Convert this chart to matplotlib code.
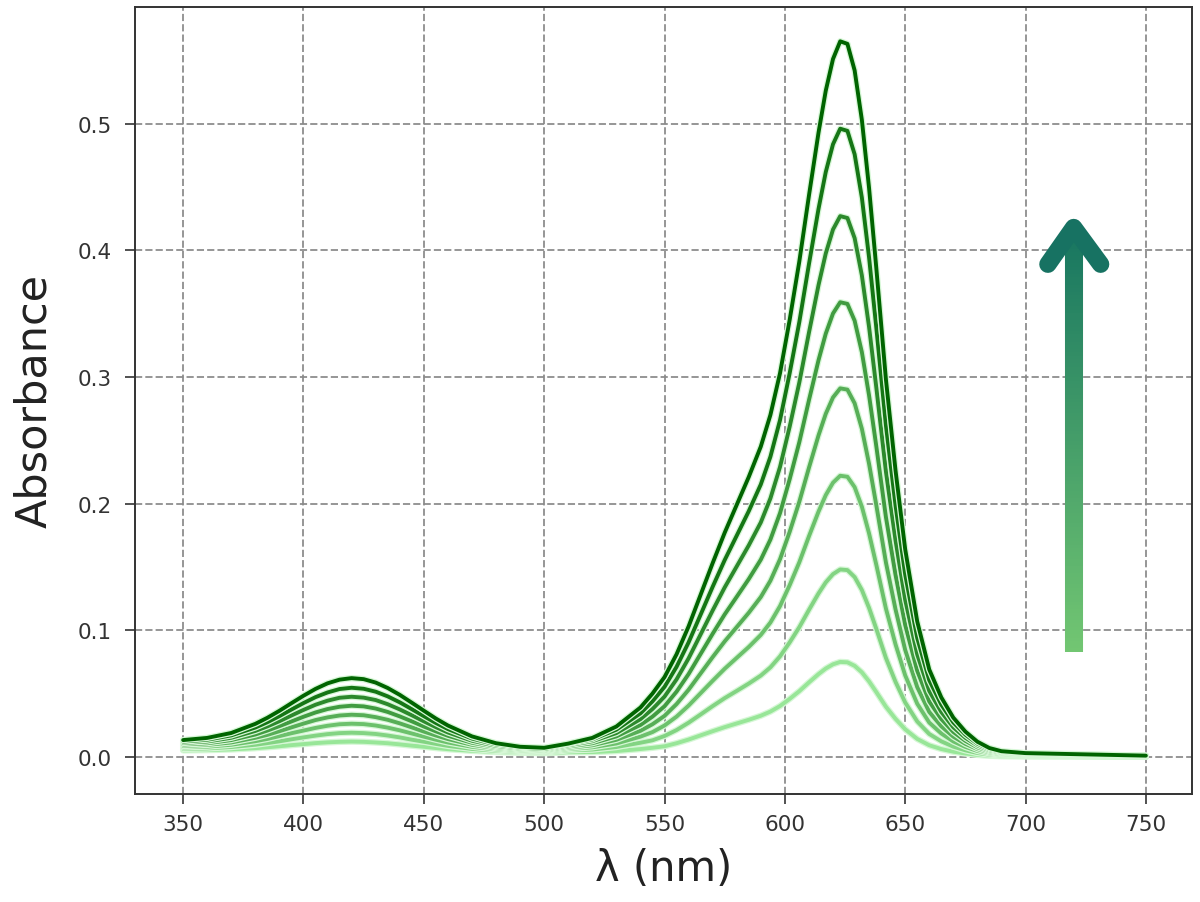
import matplotlib
matplotlib.use("Agg")
import matplotlib.pyplot as plt
import matplotlib.patheffects as pe
import numpy as np
from matplotlib.collections import LineCollection
from matplotlib.colors import LinearSegmentedColormap

# wavelength grid (nm)
wavelength = [350, 360, 370, 380, 385, 390, 395, 400, 405, 410, 415, 420, 425, 430, 435, 440,
              445, 450, 455, 460, 470, 480, 490, 500,
              510, 520, 530, 540, 545, 550, 555, 560, 565, 570, 575, 580, 585, 590, 594, 598,
              602, 606, 610, 614, 617, 620, 623, 626, 629, 632, 635, 638, 642, 646, 650, 655,
              660, 665, 670, 675, 680, 685, 690, 700, 725, 750]

# absorbance spectra, lowest (lightest) to highest (darkest)
abs_1 = [0.0052, 0.0054, 0.0059, 0.0069, 0.0076, 0.0084, 0.0093, 0.0101, 0.0109, 0.0115, 0.0119, 0.0121,
         0.0119, 0.0114, 0.0108, 0.0099, 0.0089, 0.0080, 0.0070, 0.0061, 0.0048, 0.0039, 0.0033, 0.0030,
         0.0037, 0.0038, 0.0046, 0.0062, 0.0072, 0.0084, 0.0108, 0.0137, 0.0170, 0.0203, 0.0235, 0.0264,
         0.0293, 0.0325, 0.0358, 0.0402, 0.0458, 0.0519, 0.0588, 0.0654, 0.0698, 0.0731, 0.0750, 0.0747,
         0.0719, 0.0668, 0.0596, 0.0512, 0.0396, 0.0300, 0.0218, 0.0142, 0.0092, 0.0062, 0.0041, 0.0027,
         0.0016, 0.0009, 0.0006, 0.0004, 0.0003, 0.0001]
abs_2 = [0.0063, 0.0067, 0.0078, 0.0096, 0.0109, 0.0123, 0.0139, 0.0154, 0.0168, 0.0180, 0.0188, 0.0191,
         0.0188, 0.0181, 0.0169, 0.0154, 0.0136, 0.0120, 0.0103, 0.0087, 0.0063, 0.0048, 0.0040, 0.0035,
         0.0052, 0.0058, 0.0078, 0.0112, 0.0131, 0.0165, 0.0212, 0.0270, 0.0335, 0.0401, 0.0464, 0.0521,
         0.0579, 0.0642, 0.0707, 0.0794, 0.0904, 0.1024, 0.1160, 0.1291, 0.1378, 0.1443, 0.1480, 0.1475,
         0.1420, 0.1318, 0.1176, 0.1011, 0.0781, 0.0592, 0.0430, 0.0280, 0.0181, 0.0123, 0.0081, 0.0052,
         0.0031, 0.0018, 0.0012, 0.0008, 0.0005, 0.0003]
abs_3 = [0.0075, 0.0081, 0.0096, 0.0124, 0.0142, 0.0164, 0.0187, 0.0208, 0.0229, 0.0246, 0.0258, 0.0262,
         0.0259, 0.0248, 0.0231, 0.0210, 0.0185, 0.0160, 0.0136, 0.0114, 0.0080, 0.0059, 0.0047, 0.0041,
         0.0062, 0.0076, 0.0106, 0.0160, 0.0196, 0.0248, 0.0318, 0.0405, 0.0503, 0.0601, 0.0696, 0.0782,
         0.0868, 0.0963, 0.1061, 0.1191, 0.1356, 0.1536, 0.1741, 0.1937, 0.2067, 0.2165, 0.2220, 0.2212,
         0.2130, 0.1976, 0.1764, 0.1517, 0.1171, 0.0888, 0.0644, 0.0420, 0.0271, 0.0185, 0.0122, 0.0079,
         0.0047, 0.0028, 0.0018, 0.0012, 0.0008, 0.0004]
abs_4 = [0.0086, 0.0095, 0.0114, 0.0151, 0.0174, 0.0203, 0.0233, 0.0263, 0.0291, 0.0312, 0.0327, 0.0333,
         0.0329, 0.0314, 0.0293, 0.0265, 0.0233, 0.0200, 0.0169, 0.0141, 0.0096, 0.0069, 0.0053, 0.0046,
         0.0072, 0.0092, 0.0135, 0.0206, 0.0258, 0.0324, 0.0417, 0.0530, 0.0659, 0.0788, 0.0912, 0.1025,
         0.1138, 0.1262, 0.1391, 0.1561, 0.1777, 0.2014, 0.2282, 0.2539, 0.2709, 0.2838, 0.2910, 0.2900,
         0.2792, 0.2591, 0.2313, 0.1988, 0.1535, 0.1164, 0.0845, 0.0551, 0.0355, 0.0242, 0.0160, 0.0103,
         0.0062, 0.0036, 0.0023, 0.0015, 0.0010, 0.0005]
abs_5 = [0.0098, 0.0108, 0.0133, 0.0177, 0.0208, 0.0243, 0.0280, 0.0317, 0.0351, 0.0378, 0.0396, 0.0404,
         0.0399, 0.0382, 0.0355, 0.0320, 0.0281, 0.0240, 0.0202, 0.0167, 0.0112, 0.0078, 0.0060, 0.0050,
         0.0082, 0.0108, 0.0162, 0.0252, 0.0318, 0.0400, 0.0515, 0.0654, 0.0813, 0.0972, 0.1125, 0.1264,
         0.1404, 0.1557, 0.1716, 0.1925, 0.2192, 0.2484, 0.2815, 0.3133, 0.3342, 0.3501, 0.3590, 0.3577,
         0.3444, 0.3196, 0.2853, 0.2453, 0.1893, 0.1436, 0.1042, 0.0680, 0.0438, 0.0299, 0.0197, 0.0127,
         0.0076, 0.0045, 0.0029, 0.0019, 0.0013, 0.0006]
abs_6 = [0.0110, 0.0122, 0.0151, 0.0205, 0.0241, 0.0282, 0.0327, 0.0371, 0.0412, 0.0444, 0.0467, 0.0475,
         0.0468, 0.0449, 0.0416, 0.0375, 0.0329, 0.0281, 0.0235, 0.0193, 0.0128, 0.0087, 0.0066, 0.0056,
         0.0092, 0.0124, 0.0188, 0.0298, 0.0378, 0.0476, 0.0612, 0.0778, 0.0967, 0.1156, 0.1338, 0.1504,
         0.1670, 0.1851, 0.2041, 0.2290, 0.2607, 0.2955, 0.3348, 0.3726, 0.3975, 0.4164, 0.4270, 0.4255,
         0.4096, 0.3802, 0.3393, 0.2917, 0.2252, 0.1708, 0.1240, 0.0809, 0.0521, 0.0355, 0.0234, 0.0151,
         0.0091, 0.0053, 0.0034, 0.0023, 0.0015, 0.0008]
abs_7 = [0.0121, 0.0136, 0.0170, 0.0232, 0.0274, 0.0322, 0.0374, 0.0425, 0.0472, 0.0509, 0.0536, 0.0546,
         0.0538, 0.0515, 0.0478, 0.0431, 0.0377, 0.0322, 0.0268, 0.0220, 0.0145, 0.0098, 0.0073, 0.0062,
         0.0102, 0.0138, 0.0215, 0.0344, 0.0439, 0.0553, 0.0711, 0.0904, 0.1123, 0.1343, 0.1554, 0.1747,
         0.1940, 0.2151, 0.2370, 0.2660, 0.3029, 0.3432, 0.3889, 0.4328, 0.4618, 0.4837, 0.4960, 0.4943,
         0.4758, 0.4416, 0.3942, 0.3389, 0.2616, 0.1984, 0.1440, 0.0939, 0.0606, 0.0413, 0.0272, 0.0176,
         0.0105, 0.0062, 0.0040, 0.0026, 0.0017, 0.0009]
abs_8 = [0.0133, 0.0150, 0.0189, 0.0261, 0.0309, 0.0364, 0.0424, 0.0483, 0.0537, 0.0581, 0.0610, 0.0622,
         0.0614, 0.0587, 0.0544, 0.0490, 0.0428, 0.0365, 0.0303, 0.0248, 0.0162, 0.0108, 0.0080, 0.0072,
         0.0105, 0.0150, 0.0240, 0.0390, 0.0500, 0.0630, 0.0810, 0.1030, 0.1280, 0.1530, 0.1770, 0.1990,
         0.2210, 0.2450, 0.2700, 0.3030, 0.3450, 0.3910, 0.4430, 0.4930, 0.5260, 0.5510, 0.5650, 0.5630,
         0.5420, 0.5030, 0.4490, 0.3860, 0.2980, 0.2260, 0.1640, 0.1070, 0.0690, 0.0470, 0.0310, 0.0200,
         0.0120, 0.0070, 0.0045, 0.0030, 0.0020, 0.0010]
spectra = [abs_1, abs_2, abs_3, abs_4, abs_5, abs_6, abs_7, abs_8]

x_ticks = [350, 400, 450, 500, 550, 600, 650, 700, 750]
y_ticks = [0.0, 0.1, 0.2, 0.3, 0.4, 0.5]

greens = LinearSegmentedColormap.from_list("g", ["#98e698", "#006400"])

fig = plt.figure(figsize=(12, 9.03), dpi=100)
ax = fig.add_axes([0.1125, 0.12, 0.8805, 0.871])

for i, s in enumerate(spectra):
    c = greens(i / (len(spectra) - 1))
    ax.plot(wavelength, s, color=c, lw=2.8, solid_capstyle="round", solid_joinstyle="round",
            zorder=3, path_effects=[pe.Stroke(linewidth=4.6, foreground="#d6f7d6"), pe.Normal()])

# gradient arrow, light at the tail, dark teal at the head
ys = np.linspace(0.083, 0.418, 120)
segs = [[(720, a), (720, b)] for a, b in zip(ys[:-1], ys[1:])]
arrow_cmap = LinearSegmentedColormap.from_list("a", ["#72c672", "#177560"])
ax.add_collection(LineCollection(segs, colors=arrow_cmap(np.linspace(0, 1, len(segs))),
                                 linewidths=13, zorder=4))
ax.plot([709.3, 720, 731.2], [0.389, 0.418, 0.389], color="#177262", lw=12.5,
        solid_capstyle="round", solid_joinstyle="round", zorder=5)

ax.set_xlim(330, 769)
ax.set_ylim(-0.029, 0.592)
ax.set_xticks(x_ticks)
ax.set_yticks(y_ticks)
ax.tick_params(labelsize=15.5, length=7, width=1.2, colors="#333333")
ax.tick_params(axis="x", pad=8)
ax.tick_params(axis="y", pad=10)
ax.grid(True, ls="--", color="#8a8a8a", lw=1.4, alpha=0.9)
for sp in ax.spines.values():
    sp.set_color("#333333")
    sp.set_linewidth(1.4)
ax.set_xlabel("λ (nm)", fontsize=30, color="#222222", labelpad=9)
ax.set_ylabel("Absorbance", fontsize=31, color="#222222", labelpad=16)

fig.savefig("out.png", dpi=100, facecolor="white")
